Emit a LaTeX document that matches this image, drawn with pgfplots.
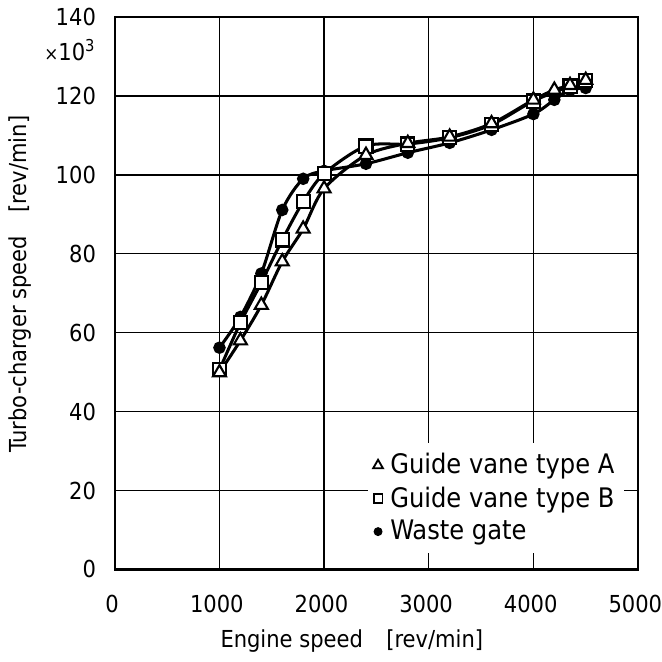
\documentclass[border=0pt]{standalone}
\usepackage{pgfplots}
\pgfplotsset{compat=1.18}
\usepackage{fontspec}
\setmainfont{DejaVu Sans Condensed}

\begin{document}
\begin{tikzpicture}
\begin{axis}[
    scale only axis,
    width=78.6mm,
    height=83mm,
    xmin=0, xmax=5000,
    ymin=0, ymax=140,
    xtick={0,1000,...,5000},
    ytick={0,20,...,140},
    major tick length=0pt,
    grid=major,
    grid style={black, line width=0.6pt},
    axis line style={line width=1.1pt},
    /pgf/number format/assume math mode=true,
    /pgf/number format/1000 sep={},
    tick label style={font=\fontsize{10}{12}\selectfont},
    xticklabel style={yshift=-2.6mm, xshift=-0.4mm},
    yticklabel style={xshift=-1.6mm},
    xlabel={Engine speed\quad [rev/min]},
    ylabel={Turbo-charger speed\quad [rev/min]},
    label style={font=\fontsize{10}{12}\selectfont},
    xlabel style={yshift=-0.2mm, xshift=-3.7mm},
    ylabel style={yshift=1.2mm, xshift=1.35mm},
    legend style={
        at={(rel axis cs:0.975,0.229)}, anchor=north east,
        draw=none, fill=white,
        font=\fontsize{11.5}{13}\selectfont,
        row sep=0mm, inner sep=0.8mm,
        cells={anchor=west},
        /tikz/every odd column/.append style={column sep=0.4mm},
    },
    legend cell align=left,
    clip=false,
]
\addlegendimage{only marks, mark=triangle*, mark options={fill=white, draw=black, line width=0.8pt}, mark size=2.4pt}
\addlegendentry{Guide vane type A}
\addlegendimage{only marks, mark=square*, mark options={fill=white, draw=black, line width=0.8pt}, mark size=1.9pt}
\addlegendentry{Guide vane type B}
\addlegendimage{only marks, mark=*, mark options={fill=black, draw=black}, mark size=1.7pt}
\addlegendentry{Waste gate}

% waste gate
\addplot[black, line width=1.3pt, smooth, tension=0.5, mark=*, mark size=2pt,
    mark options={fill=black}] coordinates {
    (1000,56.2) (1200,64.0) (1400,75.0) (1600,91.1) (1800,99.0) (2000,101.0)
    (2400,102.8) (2800,105.6) (3200,108.1) (3600,111.4) (4000,115.4)
    (4200,119.0) (4350,121.5) (4500,122.0)};
% guide vane type B
\addplot[black, line width=1.3pt, smooth, tension=0.5, mark=square*, mark size=2.8pt,
    mark options={fill=white, line width=0.9pt}] coordinates {
    (1000,50.6) (1200,62.5) (1400,72.7) (1600,83.5) (1800,93.2) (2000,100.3)
    (2400,107.3) (2800,107.8) (3200,109.4) (3600,112.7) (4000,118.7)
    (4350,122.5) (4500,124.0)};
% guide vane type A
\addplot[black, line width=1.3pt, smooth, tension=0.5, mark=triangle*, mark size=3.2pt,
    mark options={fill=white, line width=0.9pt}] coordinates {
    (1000,49.9) (1200,58.0) (1400,67.0) (1600,78.0) (1800,86.3) (2000,96.5)
    (2400,105.0) (2800,108.0) (3200,109.6) (3600,113.0) (4000,119.0)
    (4200,121.5) (4350,122.7) (4500,124.0)};

\node[anchor=east, font=\fontsize{10}{12}\selectfont, inner sep=0pt]
    at ([xshift=-2.8mm, yshift=-5mm]rel axis cs:0,1) {{\fontsize{8}{8}\selectfont ×}10\textsuperscript{3}};
\coordinate (bl) at (rel axis cs:0,0);
\coordinate (tr) at (rel axis cs:1,1);
\end{axis}
\pgfresetboundingbox
\path ([shift={(-17.25mm,-13.8mm)}]bl) rectangle ([shift={(3.6mm,2.55mm)}]tr);
\end{tikzpicture}
\end{document}
